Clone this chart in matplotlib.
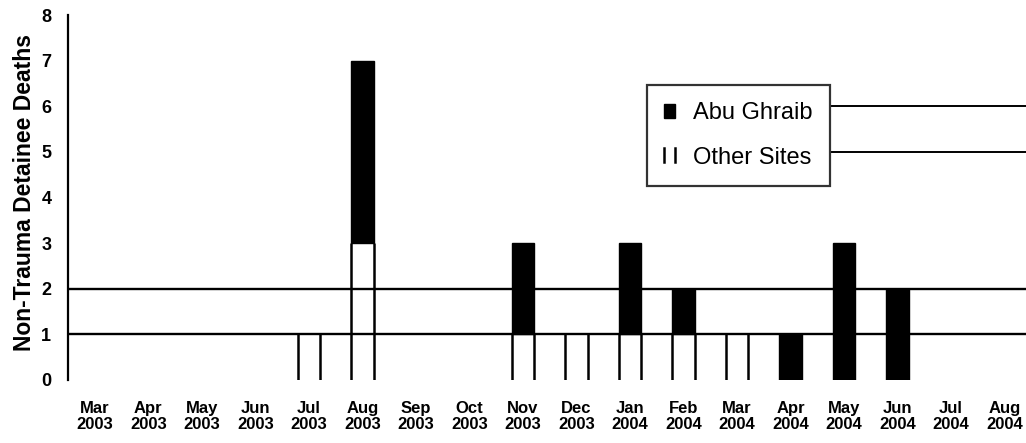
import matplotlib
matplotlib.use("Agg")
import matplotlib.pyplot as plt
from matplotlib.legend_handler import HandlerBase
from matplotlib.lines import Line2D
from matplotlib.patches import Patch
import numpy as np

months = ["Mar\n2003", "Apr\n2003", "May\n2003", "Jun\n2003", "Jul\n2003", "Aug\n2003",
          "Sep\n2003", "Oct\n2003", "Nov\n2003", "Dec\n2003", "Jan\n2004", "Feb\n2004",
          "Mar\n2004", "Apr\n2004", "May\n2004", "Jun\n2004", "Jul\n2004", "Aug\n2004"]
other_sites = [0, 0, 0, 0, 1, 3, 0, 0, 1, 1, 1, 1, 1, 0, 0, 0, 0, 0]
abu_ghraib = [0, 0, 0, 0, 0, 4, 0, 0, 2, 0, 2, 1, 0, 1, 3, 2, 0, 0]
y_ticks = [0, 1, 2, 3, 4, 5, 6, 7, 8]

plt.rcParams['font.family'] = ['Liberation Sans', 'DejaVu Sans']

fig = plt.figure(figsize=(10.26, 4.43), dpi=100)
ax = fig.add_axes([68/1026, 63/443, 958/1026, 365/443])

x = np.arange(len(months))
os_arr = np.array(other_sites, dtype=float)
ag_arr = np.array(abu_ghraib, dtype=float)
w = 0.42

# Other Sites: white bars, outlined by vertical edges only (as in the scan)
mo = os_arr > 0
ax.bar(x[mo], os_arr[mo], width=w, facecolor='white', edgecolor='none', zorder=2)
ax.vlines(np.concatenate([x[mo] - w / 2, x[mo] + w / 2]), 0,
          np.concatenate([os_arr[mo], os_arr[mo]]), color='black', linewidth=1.8, zorder=3)

# Abu Ghraib: black bars stacked on top
ma = ag_arr > 0
ax.bar(x[ma], ag_arr[ma], width=w, bottom=os_arr[ma], facecolor='black', edgecolor='black',
       linewidth=1.0, zorder=4)

for yv in (1, 2):
    ax.axhline(yv, color='black', linewidth=1.7, zorder=3)
for yv in (5, 6):
    ax.axhline(yv, xmin=0.797, xmax=1.0, color='black', linewidth=1.4, zorder=3)

ax.set_xlim(-0.5, 17.4)
ax.set_ylim(0, 8)
ax.set_yticks(y_ticks)
ax.set_yticklabels([str(v) for v in y_ticks], fontsize=13, fontweight='bold')
ax.set_xticks(x)
ax.set_xticklabels(months, fontsize=12, fontweight='bold', linespacing=1.08)
ax.tick_params(axis='x', length=0, pad=15)
ax.tick_params(axis='y', length=0, pad=12)
for s in ('top', 'right', 'bottom'):
    ax.spines[s].set_visible(False)
ax.spines['left'].set_linewidth(1.6)
ax.set_ylabel('Non-Trauma Detainee Deaths', fontsize=16.5, fontweight='bold')
ax.yaxis.set_label_coords(-0.033, 0.515)


class VerticalEdgesHandler(HandlerBase):
    def create_artists(self, legend, orig_handle, xdescent, ydescent, width, height,
                       fontsize, trans):
        l1 = Line2D([-xdescent, -xdescent], [-ydescent, -ydescent + height],
                    color='black', linewidth=1.8, transform=trans)
        l2 = Line2D([-xdescent + width, -xdescent + width], [-ydescent, -ydescent + height],
                    color='black', linewidth=1.8, transform=trans)
        return [l1, l2]


h_ag = Patch(facecolor='black', edgecolor='black', label='Abu Ghraib')
h_os = Patch(facecolor='white', edgecolor='black', label='Other Sites')
leg = ax.legend([h_ag, h_os], ['Abu Ghraib', 'Other Sites'], loc='upper left',
                bbox_to_anchor=(0.604, 0.808),
                handler_map={h_os: VerticalEdgesHandler()},
                fontsize=17, frameon=True, fancybox=False, edgecolor='black',
                handlelength=0.5, handleheight=0.55, handletextpad=0.75,
                labelspacing=0.95, borderpad=0.72, borderaxespad=0)
leg.get_frame().set_linewidth(1.6)
leg.set_zorder(5)

fig.savefig('out.png', dpi=100)
